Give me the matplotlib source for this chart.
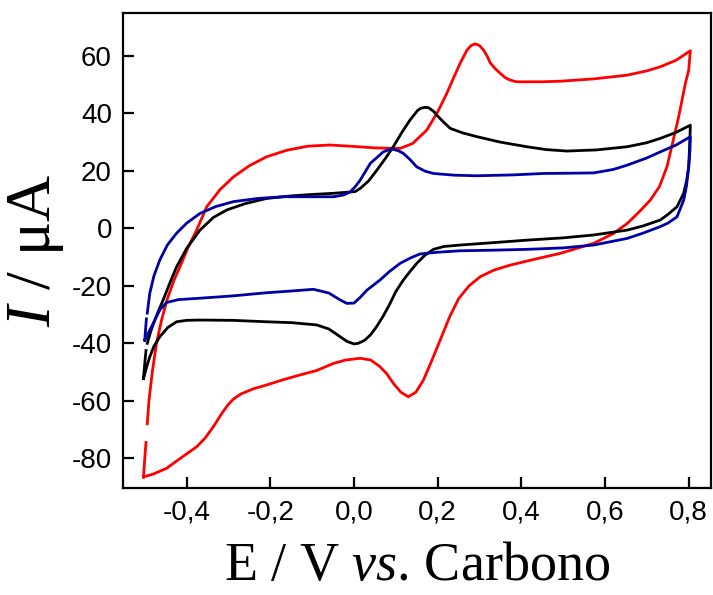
import numpy as np
import matplotlib
matplotlib.use('Agg')
import matplotlib.pyplot as plt

plt.rcParams['font.family'] = ['Liberation Sans', 'DejaVu Sans']
plt.rcParams['mathtext.fontset'] = 'custom'
plt.rcParams['mathtext.rm'] = 'Liberation Serif'
plt.rcParams['mathtext.it'] = 'Liberation Serif:italic'

nan = np.nan

# Voltamogramas (E / V, I / uA), ida e volta a partir de -0,5 V
red_E = [-0.503, -0.500, -0.497, nan, -0.494, -0.490, -0.482, -0.472, -0.460, -0.446, -0.430,
         -0.416, -0.396, -0.376, -0.352, -0.320, -0.288, -0.250, -0.209, -0.160, -0.110, -0.057,
         0.000, 0.050, 0.110, 0.140, 0.174, 0.200, 0.222, 0.240, 0.254, 0.270, 0.280, 0.290,
         0.300, 0.310, 0.318, 0.326, 0.338, 0.350, 0.360, 0.370, 0.380, 0.389, 0.450, 0.493,
         0.573, 0.653, 0.700, 0.732, 0.770, 0.804,
         0.800, 0.792, 0.776, 0.762, 0.748, 0.730, 0.708, 0.680, 0.653, 0.620, 0.573, 0.493,
         0.430, 0.373, 0.335, 0.302, 0.275, 0.250, 0.228, 0.206, 0.186, 0.166, 0.148, 0.130,
         0.112, 0.094, 0.078, 0.062, 0.040, 0.015, -0.020, -0.049, -0.090, -0.129, -0.170,
         -0.209, -0.240, -0.270, -0.288, -0.300, -0.315, -0.336, -0.356, -0.376, -0.410,
         -0.448, -0.480, -0.503]
red_I = [-86.5, -80.0, -74.5, nan, -68.0, -60.0, -50.0, -40.0, -32.0, -24.5, -18.0,
         -13.4, -6.5, -0.6, 7.5, 13.5, 17.9, 21.8, 24.9, 27.2, 28.6, 29.0,
         28.5, 28.0, 27.8, 29.5, 34.2, 40.5, 47.0, 53.0, 57.5, 62.0, 63.6, 64.2,
         63.6, 62.0, 60.0, 57.5, 55.5, 53.9, 52.6, 51.8, 51.3, 51.0, 51.0, 51.2,
         52.0, 53.3, 54.8, 56.2, 58.5, 61.8,
         55.0, 50.4, 38.8, 30.0, 21.4, 14.5, 9.8, 5.5, 1.7, -1.8, -5.2, -8.7,
         -10.8, -12.8, -14.5, -16.8, -20.0, -24.5, -31.0, -38.9, -46.0, -52.8, -57.0, -58.6,
         -57.0, -53.9, -50.5, -48.1, -45.8, -45.2, -45.8, -47.0, -49.5, -51.0, -52.7,
         -54.5, -55.8, -57.6, -59.4, -61.2, -64.2, -69.0, -73.0, -76.0, -79.5,
         -83.5, -85.5, -86.5]

black_E = [-0.503, -0.500, -0.497, nan, -0.494, -0.486, -0.476, -0.466, -0.456, -0.440, -0.424,
           -0.400, -0.368, -0.336, -0.304, -0.260, -0.209, -0.150, -0.100, -0.049, 0.003, 0.015,
           0.035, 0.055, 0.075, 0.094, 0.115, 0.134, 0.152, 0.160, 0.170, 0.178, 0.185, 0.192,
           0.198, 0.214, 0.230, 0.260, 0.294, 0.350, 0.413, 0.460, 0.509, 0.580, 0.653, 0.700,
           0.732, 0.770, 0.804,
           0.802, 0.800, 0.795, 0.788, 0.772, 0.750, 0.732, 0.690, 0.653, 0.573, 0.500, 0.413,
           0.330, 0.254, 0.215, 0.190, 0.170, 0.150, 0.134, 0.118, 0.100, 0.085, 0.070, 0.055,
           0.040, 0.025, 0.010, 0.000, -0.017, -0.033, -0.060, -0.089, -0.150, -0.209, -0.290,
           -0.368, -0.400, -0.424, -0.445, -0.464, -0.478, -0.488, -0.496, -0.503]
black_I = [-52.2, -47.0, -42.5, nan, -40.0, -36.0, -31.9, -28.3, -24.9, -19.0, -13.4,
           -7.0, -0.6, 3.8, 6.4, 8.6, 10.4, 11.3, 11.8, 12.2, 12.8, 13.9,
           16.5, 20.3, 24.3, 28.4, 33.5, 37.7, 41.0, 41.8, 42.1, 42.0, 41.3, 40.5,
           39.4, 37.0, 34.8, 33.2, 31.9, 30.0, 28.4, 27.4, 26.9, 27.3, 28.4, 29.8,
           31.3, 33.4, 35.9,
           28.0, 21.4, 16.5, 12.2, 7.5, 4.8, 2.9, 0.8, -0.6, -2.3, -3.3, -4.1,
           -5.0, -5.8, -6.3, -7.3, -9.3, -12.2, -15.0, -18.0, -22.0, -26.5, -30.5, -34.0,
           -37.0, -39.0, -40.0, -40.2, -39.3, -37.7, -35.0, -33.6, -32.8, -32.5, -32.0,
           -31.9, -32.0, -32.5, -34.5, -37.7, -41.0, -44.7, -48.5, -52.2]

blue_E = [-0.500, -0.498, -0.496, nan, -0.494, -0.491, -0.488, -0.478, -0.464, -0.446, -0.424,
          -0.400, -0.368, -0.330, -0.288, -0.230, -0.169, -0.110, -0.049, -0.025, -0.009, 0.003,
          0.015, 0.039, 0.070, 0.082, 0.094, 0.106, 0.118, 0.135, 0.150, 0.170, 0.190, 0.240,
          0.294, 0.380, 0.453, 0.520, 0.573, 0.620, 0.653, 0.700, 0.732, 0.770, 0.804,
          0.803, 0.800, 0.795, 0.788, 0.772, 0.750, 0.732, 0.690, 0.653, 0.573, 0.500, 0.413,
          0.330, 0.254, 0.200, 0.158, 0.135, 0.110, 0.085, 0.062, 0.031, 0.015, 0.000, -0.017,
          -0.033, -0.060, -0.097, -0.150, -0.209, -0.290, -0.368, -0.420, -0.448, -0.464,
          -0.478, -0.490, -0.500]
blue_I = [-38.9, -35.0, -31.5, nan, -29.5, -26.0, -22.6, -16.5, -11.0, -5.8, -1.7,
          1.8, 5.2, 7.6, 9.3, 10.4, 11.0, 11.0, 11.0, 11.6, 12.7, 14.5,
          16.8, 22.6, 26.6, 27.3, 27.5, 27.0, 26.1, 23.8, 21.4, 19.9, 19.1, 18.5,
          18.3, 18.6, 19.1, 19.2, 19.3, 20.5, 22.0, 24.5, 26.6, 29.0, 31.9,
          27.0, 21.4, 15.0, 9.8, 4.0, 1.8, 0.6, -1.7, -3.5, -5.8, -6.8, -7.3,
          -7.6, -7.8, -8.3, -8.9, -10.3, -12.2, -15.0, -18.0, -21.5, -24.0, -26.0, -26.1,
          -24.9, -22.5, -21.2, -21.8, -22.4, -23.5, -24.3, -24.8, -25.8, -28.4,
          -32.5, -36.0, -38.9]

x_ticks = [-0.4, -0.2, 0.0, 0.2, 0.4, 0.6, 0.8]
x_ticklabels = ['-0,4', '-0,2', '0,0', '0,2', '0,4', '0,6', '0,8']
y_ticks = [-80, -60, -40, -20, 0, 20, 40, 60]
y_ticklabels = ['-80', '-60', '-40', '-20', '0', '20', '40', '60']

fig = plt.figure(figsize=(7.13, 5.95), dpi=100)
ax = fig.add_axes([0.1725, 0.18, 0.8245, 0.798])

ax.plot(red_E, red_I, color='#ff0000', lw=2.0, solid_joinstyle='round')
ax.plot(black_E, black_I, color='#000000', lw=2.0, solid_joinstyle='round')
ax.plot(blue_E, blue_I, color='#0000a8', lw=2.0, solid_joinstyle='round')

ax.set_xlim(-0.552, 0.853)
ax.set_ylim(-90.3, 74.9)
ax.set_xticks(x_ticks)
ax.set_xticklabels(x_ticklabels)
ax.set_yticks(y_ticks)
ax.set_yticklabels(y_ticklabels)
ax.tick_params(direction='in', length=8, width=1.6, labelsize=20, pad=8)

for s in ax.spines.values():
    s.set_linewidth(1.6)

ax.set_xlabel(r'E / V $\mathit{vs}$. Carbono', family='Liberation Serif', fontsize=39, labelpad=12)
ax.set_ylabel(r'$\mathit{I}$ / μA', family='Liberation Serif', fontsize=46, labelpad=4)

plt.savefig('out.png', dpi=100)
